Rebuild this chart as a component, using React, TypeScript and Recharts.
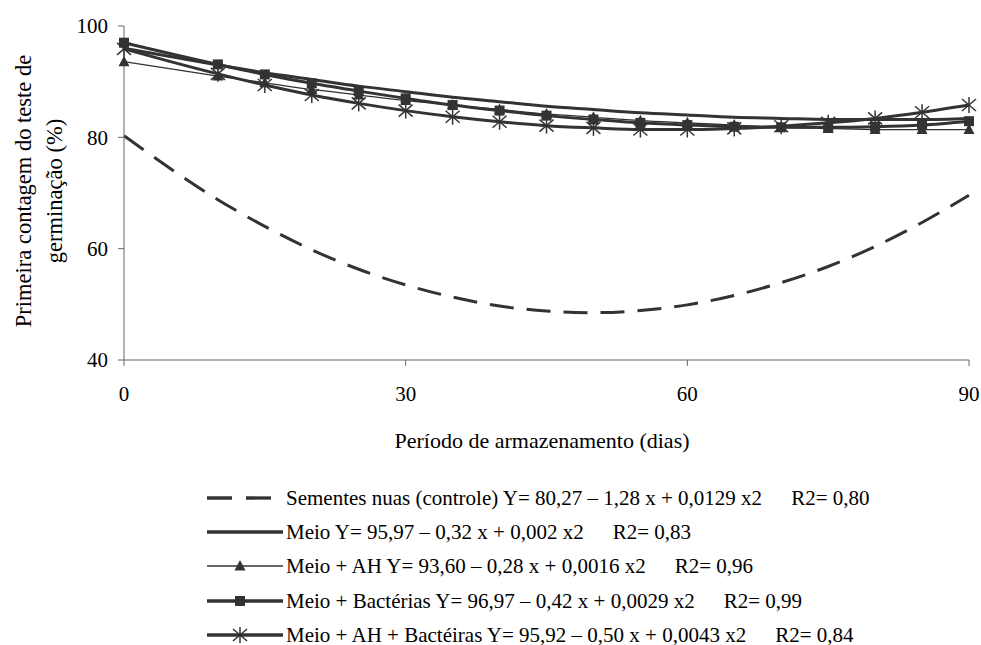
import React from "react"
import { LineChart, Line, XAxis, YAxis, Label } from "recharts"

// dias de armazenamento
const dias = [0, 10, 15, 20, 25, 30, 35, 40, 45, 50, 55, 60, 65, 70, 75, 80, 85, 90]

// valores (%)
const controle = [80.3, 68.8, 64.0, 59.8, 56.3, 53.5, 51.3, 49.7, 48.8, 48.5, 48.9, 49.9, 51.6, 53.9, 56.8, 60.4, 64.7, 69.6]
const meio = [96.0, 93.0, 91.6, 90.4, 89.2, 88.2, 87.2, 86.4, 85.6, 85.0, 84.4, 84.0, 83.6, 83.4, 83.2, 83.2, 83.2, 83.4]
const meioAH = [93.6, 91.0, 89.8, 88.6, 87.6, 86.6, 85.8, 85.0, 84.2, 83.6, 83.0, 82.6, 82.2, 81.8, 81.6, 81.4, 81.4, 81.4]
const meioBact = [97.0, 93.1, 91.3, 89.7, 88.3, 87.0, 85.8, 84.8, 83.9, 83.2, 82.6, 82.2, 81.9, 81.8, 81.8, 81.9, 82.2, 82.9]
const meioAHBact = [95.9, 91.4, 89.4, 87.6, 86.1, 84.8, 83.7, 82.8, 82.1, 81.7, 81.4, 81.4, 81.6, 82.0, 82.6, 83.4, 84.5, 85.8]

const xTicks = [0, 30, 60, 90]
const yTicks = [40, 60, 80, 100]

const legendNames = [
  "Sementes nuas (controle)",
  "Meio",
  "Meio + AH",
  "Meio + Bactérias",
  "Meio + AH + Bactéiras",
]
const legendEqs = [
  "Y= 80,27 – 1,28 x + 0,0129 x2",
  "Y= 95,97 – 0,32 x + 0,002 x2",
  "Y= 93,60 – 0,28 x + 0,0016 x2",
  "Y= 96,97 – 0,42 x + 0,0029 x2",
  "Y= 95,92 – 0,50 x + 0,0043 x2",
]
const legendR2 = ["R2= 0,80", "R2= 0,83", "R2= 0,96", "R2= 0,99", "R2= 0,84"]

const data = dias.map((d, i) => ({
  dia: d,
  controle: controle[i],
  meio: meio[i],
  meioAH: meioAH[i],
  meioBact: meioBact[i],
  meioAHBact: meioAHBact[i],
}))

const INK = "#333333"
const FONT = '"Liberation Serif"'

type Marker = "none" | "triangle" | "square" | "star"

const drawMarker = (kind: Marker, cx: number, cy: number, key?: string | number) => {
  if (kind === "triangle") {
    return (
      <polygon key={key} points={`${cx},${cy - 6} ${cx + 5.5},${cy + 4.5} ${cx - 5.5},${cy + 4.5}`} fill={INK} />
    )
  }
  if (kind === "square") {
    return <rect key={key} x={cx - 5} y={cy - 5} width={10} height={10} fill={INK} />
  }
  if (kind === "star") {
    return (
      <g key={key} stroke={INK} strokeWidth={1.5}>
        <line x1={cx} y1={cy - 8} x2={cx} y2={cy + 8} />
        <line x1={cx - 7} y1={cy - 6} x2={cx + 7} y2={cy + 6} />
        <line x1={cx - 7} y1={cy + 6} x2={cx + 7} y2={cy - 6} />
      </g>
    )
  }
  return null
}

const series: Array<{ key: string; width: number; dash?: string; marker: Marker }> = [
  { key: "controle", width: 3, dash: "24 13", marker: "none" },
  { key: "meio", width: 3, marker: "none" },
  { key: "meioAH", width: 1.3, marker: "triangle" },
  { key: "meioBact", width: 3, marker: "square" },
  { key: "meioAHBact", width: 3, marker: "star" },
]

const legendRowY = [497.5, 532, 566.3, 600.6, 634.8]

export default function App() {
  return (
    <div style={{ position: "absolute", left: 0, top: 0, width: 981, height: 645, background: "#fff", fontFamily: FONT }}>
      <LineChart width={981} height={645} data={data} margin={{ top: 26, right: 12, left: 64, bottom: 205 }}>
        <XAxis
          dataKey="dia"
          type="number"
          domain={[0, 90]}
          ticks={xTicks}
          tickSize={6}
          tickMargin={20}
          height={80}
          stroke="#666"
          tick={{ fill: "#000", fontSize: 21, fontFamily: FONT }}
        >
          <Label
            content={() => (
              <text x={542} y={448} textAnchor="middle" fontFamily={FONT} fontSize={22} fill="#000">
                Período de armazenamento (dias)
              </text>
            )}
          />
        </XAxis>
        <YAxis
          type="number"
          domain={[40, 100]}
          ticks={yTicks}
          tickSize={6}
          tickMargin={10}
          width={60}
          stroke="#666"
          tick={{ fill: "#000", fontSize: 21, fontFamily: FONT }}
        >
          <Label
            content={() => (
              <g fontFamily={FONT} fontSize={22.5} fill="#000">
                <text transform="translate(23,191) rotate(-90)" textAnchor="middle" dominantBaseline="central">
                  Primeira contagem do teste de
                </text>
                <text transform="translate(54,191) rotate(-90)" textAnchor="middle" dominantBaseline="central">
                  germinação (%)
                </text>
              </g>
            )}
          />
        </YAxis>
        {series.map((s) => (
          <Line
            key={s.key}
            dataKey={s.key}
            type="monotone"
            stroke={INK}
            strokeWidth={s.width}
            strokeDasharray={s.dash}
            isAnimationActive={false}
            activeDot={false}
            dot={
              s.marker === "none"
                ? false
                : (p: any) => drawMarker(s.marker, p.cx, p.cy, `${s.key}-${p.index}`) ?? <g key={`${s.key}-${p.index}`} />
            }
          />
        ))}
      </LineChart>

      {series.map((s, i) => (
        <div
          key={s.key}
          style={{
            position: "absolute",
            left: 207,
            top: legendRowY[i] - 9,
            height: 18,
            lineHeight: "18px",
            display: "flex",
            alignItems: "center",
            whiteSpace: "nowrap",
            fontFamily: FONT,
            fontSize: 21,
            color: "#000",
          }}
        >
          <svg width={79} height={18} style={{ flex: "none" }}>
            <line
              x1={0}
              y1={9}
              x2={76}
              y2={9}
              stroke={INK}
              strokeWidth={s.width === 3 ? 3.3 : 1.5}
              strokeDasharray={s.dash ? "25 14" : undefined}
            />
            {drawMarker(s.marker, 33, 9)}
          </svg>
          <span>
            {legendNames[i]} {legendEqs[i]}
          </span>
          <span style={{ marginLeft: 29 }}>{legendR2[i]}</span>
        </div>
      ))}
    </div>
  )
}
